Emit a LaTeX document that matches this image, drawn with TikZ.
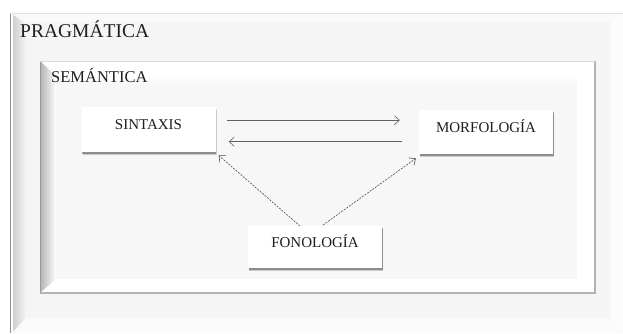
\documentclass[tikz,border=0pt]{standalone}
\usepackage{fontspec}
\setmainfont{Liberation Serif}
\usetikzlibrary{arrows.meta,shadows}

\begin{document}
\begin{tikzpicture}[x=1pt,y=-1pt,
  level/.style={font=\fontsize{#1}{#1}\selectfont, inner sep=0pt, anchor=base west, text=black!88},
  unit/.style={fill=white, minimum width=134pt, inner sep=0pt, anchor=north,
    font=\fontsize{15}{18}\selectfont, text=black!88,
    drop shadow={shadow xshift=1.2pt, shadow yshift=-2.6pt, fill=black, opacity=0.18},
    drop shadow={shadow xshift=0.6pt, shadow yshift=-1.4pt, fill=black, opacity=0.30}},
  link/.style={draw=black!62, line width=0.6pt, -{Straight Barb[length=5pt,width=9pt]}},
  hint/.style={link, draw=black!70, dash pattern=on 2pt off 1.2pt, line width=0.6pt}
]
\useasboundingbox (0,0) rectangle (623,333);
\fill[white] (0,0) rectangle (623,333);

% outer panel with bevelled edges
\fill[black!4] (10,13) rectangle (623,333);
\shade[left color=black!20, right color=black!4] (12,14) -- (26,24) -- (26,318) -- (12,333) -- cycle;
\fill[white!40!black!4] (10,13) -- (623,13) -- (610,22) -- (26,22) -- cycle;
\fill[white!70!black!4] (623,13) -- (623,333) -- (610,318) -- (610,22) -- cycle;
\fill[white!50!black!4] (12,333) -- (623,333) -- (610,318) -- (26,318) -- cycle;
\fill[white] (10.8,13) rectangle (12.5,333);
\draw[black!45, line width=1pt] (10,13) -- (10,333);
\draw[black!12, line width=0.6pt] (10,13) -- (623,13);

% inner panel with bevelled edges
\fill[white] (40,61) rectangle (595,293);
\shade[left color=black!28, right color=white] (41,62) -- (56,76) -- (56,279) -- (41,292) -- cycle;
\fill[black!3] (56,76) rectangle (577,279);
\shade[top color=white, bottom color=black!3] (56,76) rectangle (577,84);
\draw[black!40, line width=1pt] (40.5,61) -- (40.5,293);
\draw[black!30, line width=1.2pt] (40,293) -- (595,293) -- (595,61);
\draw[black!14, line width=0.6pt] (40,61) -- (595,61);

% frame titles
\node[level=19.5] (prag) at (20,37) {PRAGMÁTICA};
\node[level=16.5] (sem) at (51,82.5) {SEMÁNTICA};

% components
\node[unit, text height=22pt, text depth=23pt] (sin) at (148.5,107) {SINTAXIS};
\node[unit, text height=22pt, text depth=22pt] (mor) at (486,110) {MORFOLOGÍA};
\node[unit, text height=21pt, text depth=21pt] (fon) at (315,226) {FONOLOGÍA};

% relations between syntax and morphology
\coordinate (up) at ([yshift=9.5pt]sin.east);
\coordinate (dn) at ([yshift=-12pt]sin.east);
\draw[link, shorten <=11pt, shorten >=19pt] (up) -- (up -| mor.west);
\draw[link, shorten <=17pt, shorten >=13pt] (dn -| mor.west) -- (dn);

% phonology feeding both
\draw[hint] ([xshift=-15pt]fon.north) -- ([shift={(3,3)}]sin.south east);
\draw[hint] ([shift={(8,-1)}]fon.north) -- ([shift={(-3,4)}]mor.south west);
\end{tikzpicture}
\end{document}
